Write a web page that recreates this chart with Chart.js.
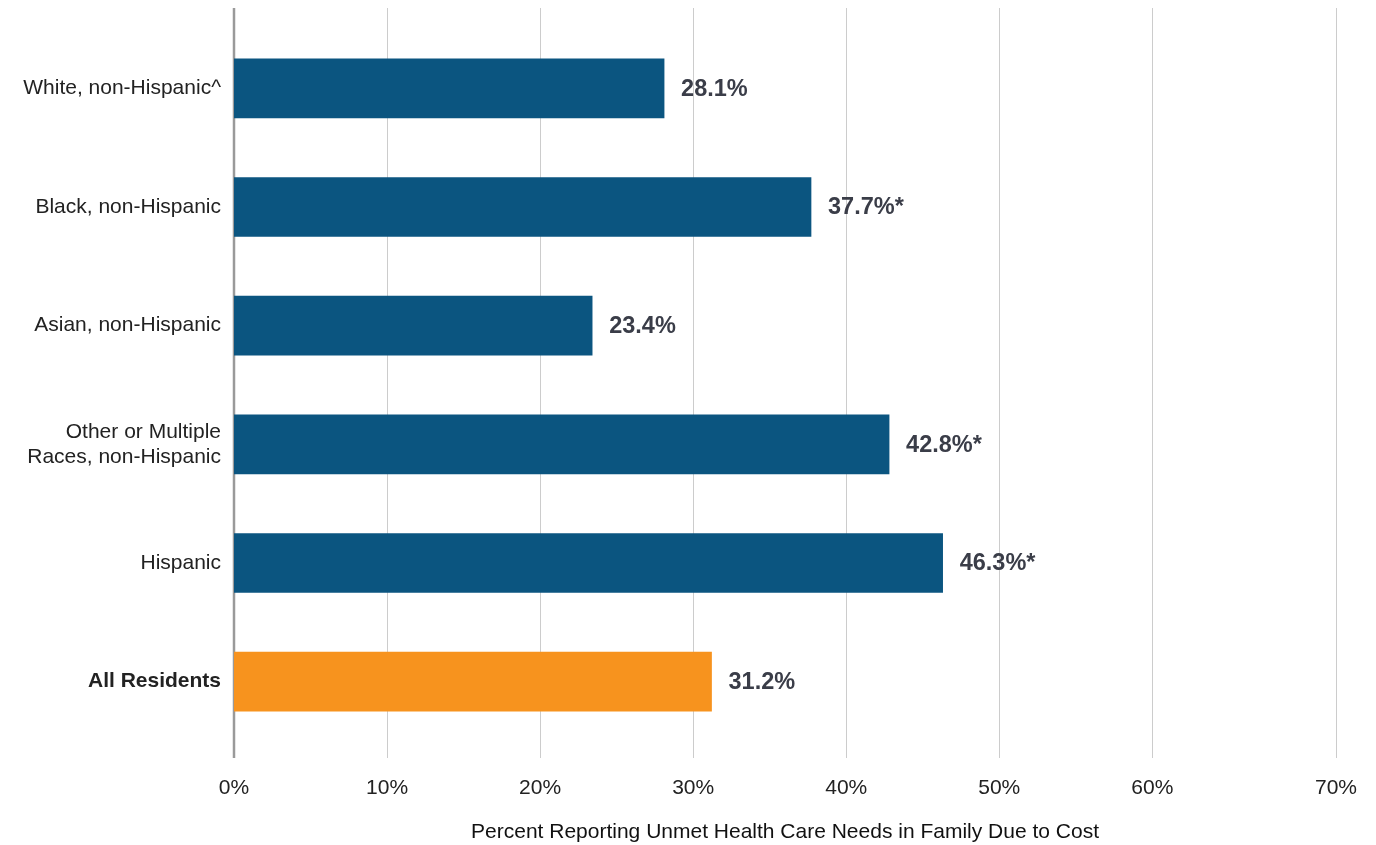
<!DOCTYPE html>
<html>
<head>
<meta charset="utf-8">
<script src="https://cdn.jsdelivr.net/npm/chart.js@4.4.1/dist/chart.umd.min.js"></script>
<style>
  html, body { margin: 0; padding: 0; background: #fff; }
  #wrap { width: 1376px; height: 845px; }
</style>
</head>
<body>
<div id="wrap"><canvas id="unmetChart"></canvas></div>
<script>
// categories and values
const groups = [
    'White, non-Hispanic^',
    'Black, non-Hispanic',
    'Asian, non-Hispanic',
    ['Other or Multiple', 'Races, non-Hispanic'],
    'Hispanic',
    'All Residents'
];
const percentValues = [28.1, 37.7, 23.4, 42.8, 46.3, 31.2];
const valueLabels = ['28.1%', '37.7%*', '23.4%', '42.8%*', '46.3%*', '31.2%'];
// the last gridline in the original sits further out than the even steps
const tickPositions = [0, 10, 20, 30, 40, 50, 60, 72];
const tickLabels = ['0%', '10%', '20%', '30%', '40%', '50%', '60%', '70%'];

const navy = '#0b5580';
const orange = '#f7931e';
const font = "'Liberation Sans', Arial, Helvetica, sans-serif";

// gridlines that run a bit beyond the plot top and bottom, like the original
const gridPlugin = {
    id: 'longGrid',
    beforeDatasetsDraw(chart) {
        const { ctx, chartArea, scales } = chart;
        const top = chartArea.top - 21;
        const bottom = chartArea.bottom + 17;
        ctx.save();
        scales.x.ticks.forEach((t, i) => {
            if (i === 0) return;
            const x = Math.round(scales.x.getPixelForValue(t.value)) + 0.5;
            ctx.strokeStyle = '#cccccc';
            ctx.lineWidth = 1;
            ctx.beginPath();
            ctx.moveTo(x, top);
            ctx.lineTo(x, bottom);
            ctx.stroke();
        });
        const x0 = scales.x.getPixelForValue(0);
        ctx.strokeStyle = '#9a9a9a';
        ctx.lineWidth = 2.5;
        ctx.beginPath();
        ctx.moveTo(x0, top);
        ctx.lineTo(x0, bottom);
        ctx.stroke();
        ctx.restore();
    }
};

// value labels to the right of each bar
const valuePlugin = {
    id: 'valueLabels',
    afterDatasetsDraw(chart) {
        const { ctx } = chart;
        const meta = chart.getDatasetMeta(0);
        ctx.save();
        ctx.font = 'bold 23.5px ' + font;
        ctx.fillStyle = '#3a3d48';
        ctx.textAlign = 'left';
        ctx.textBaseline = 'middle';
        meta.data.forEach((bar, i) => {
            ctx.fillText(valueLabels[i], bar.x + 17, bar.y + 1);
        });
        ctx.restore();
    }
};

const ctx = document.getElementById('unmetChart').getContext('2d');
const unmetChart = new Chart(ctx, {
    type: 'bar',
    data: {
        labels: groups,
        datasets: [{
            data: percentValues,
            backgroundColor: percentValues.map((v, i) => i === percentValues.length - 1 ? orange : navy),
            barThickness: 59,
            borderWidth: 0
        }]
    },
    options: {
        indexAxis: 'y',
        responsive: true,
        maintainAspectRatio: false,
        animation: false,
        layout: {
            padding: { top: 29, right: 40, left: 0, bottom: 0 }
        },
        plugins: {
            legend: { display: false },
            tooltip: { enabled: false }
        },
        scales: {
            x: {
                type: 'linear',
                min: 0,
                max: 72,
                grid: { display: false },
                border: { display: false },
                afterBuildTicks(scale) {
                    scale.ticks = tickPositions.map(v => ({ value: v }));
                },
                ticks: {
                    padding: 27,
                    color: '#222',
                    font: { family: font, size: 21 },
                    callback: (value) => tickLabels[tickPositions.indexOf(value)]
                },
                title: {
                    display: true,
                    text: 'Percent Reporting Unmet Health Care Needs in Family Due to Cost',
                    color: '#111',
                    font: { family: font, size: 21 },
                    padding: { top: 17, bottom: 0 }
                },
                afterFit(scale) {
                    scale.height = 104;
                    scale.paddingLeft = 0;
                    scale.paddingRight = 0;
                }
            },
            y: {
                grid: { display: false },
                border: { display: false },
                ticks: {
                    padding: 5,
                    color: '#222',
                    font: (c) => ({
                        family: font,
                        size: 21,
                        weight: c.index === groups.length - 1 ? 'bold' : 'normal',
                        lineHeight: 1.2
                    })
                },
                afterFit(scale) { scale.width = 234; }
            }
        }
    },
    plugins: [gridPlugin, valuePlugin]
});
</script>
</body>
</html>
